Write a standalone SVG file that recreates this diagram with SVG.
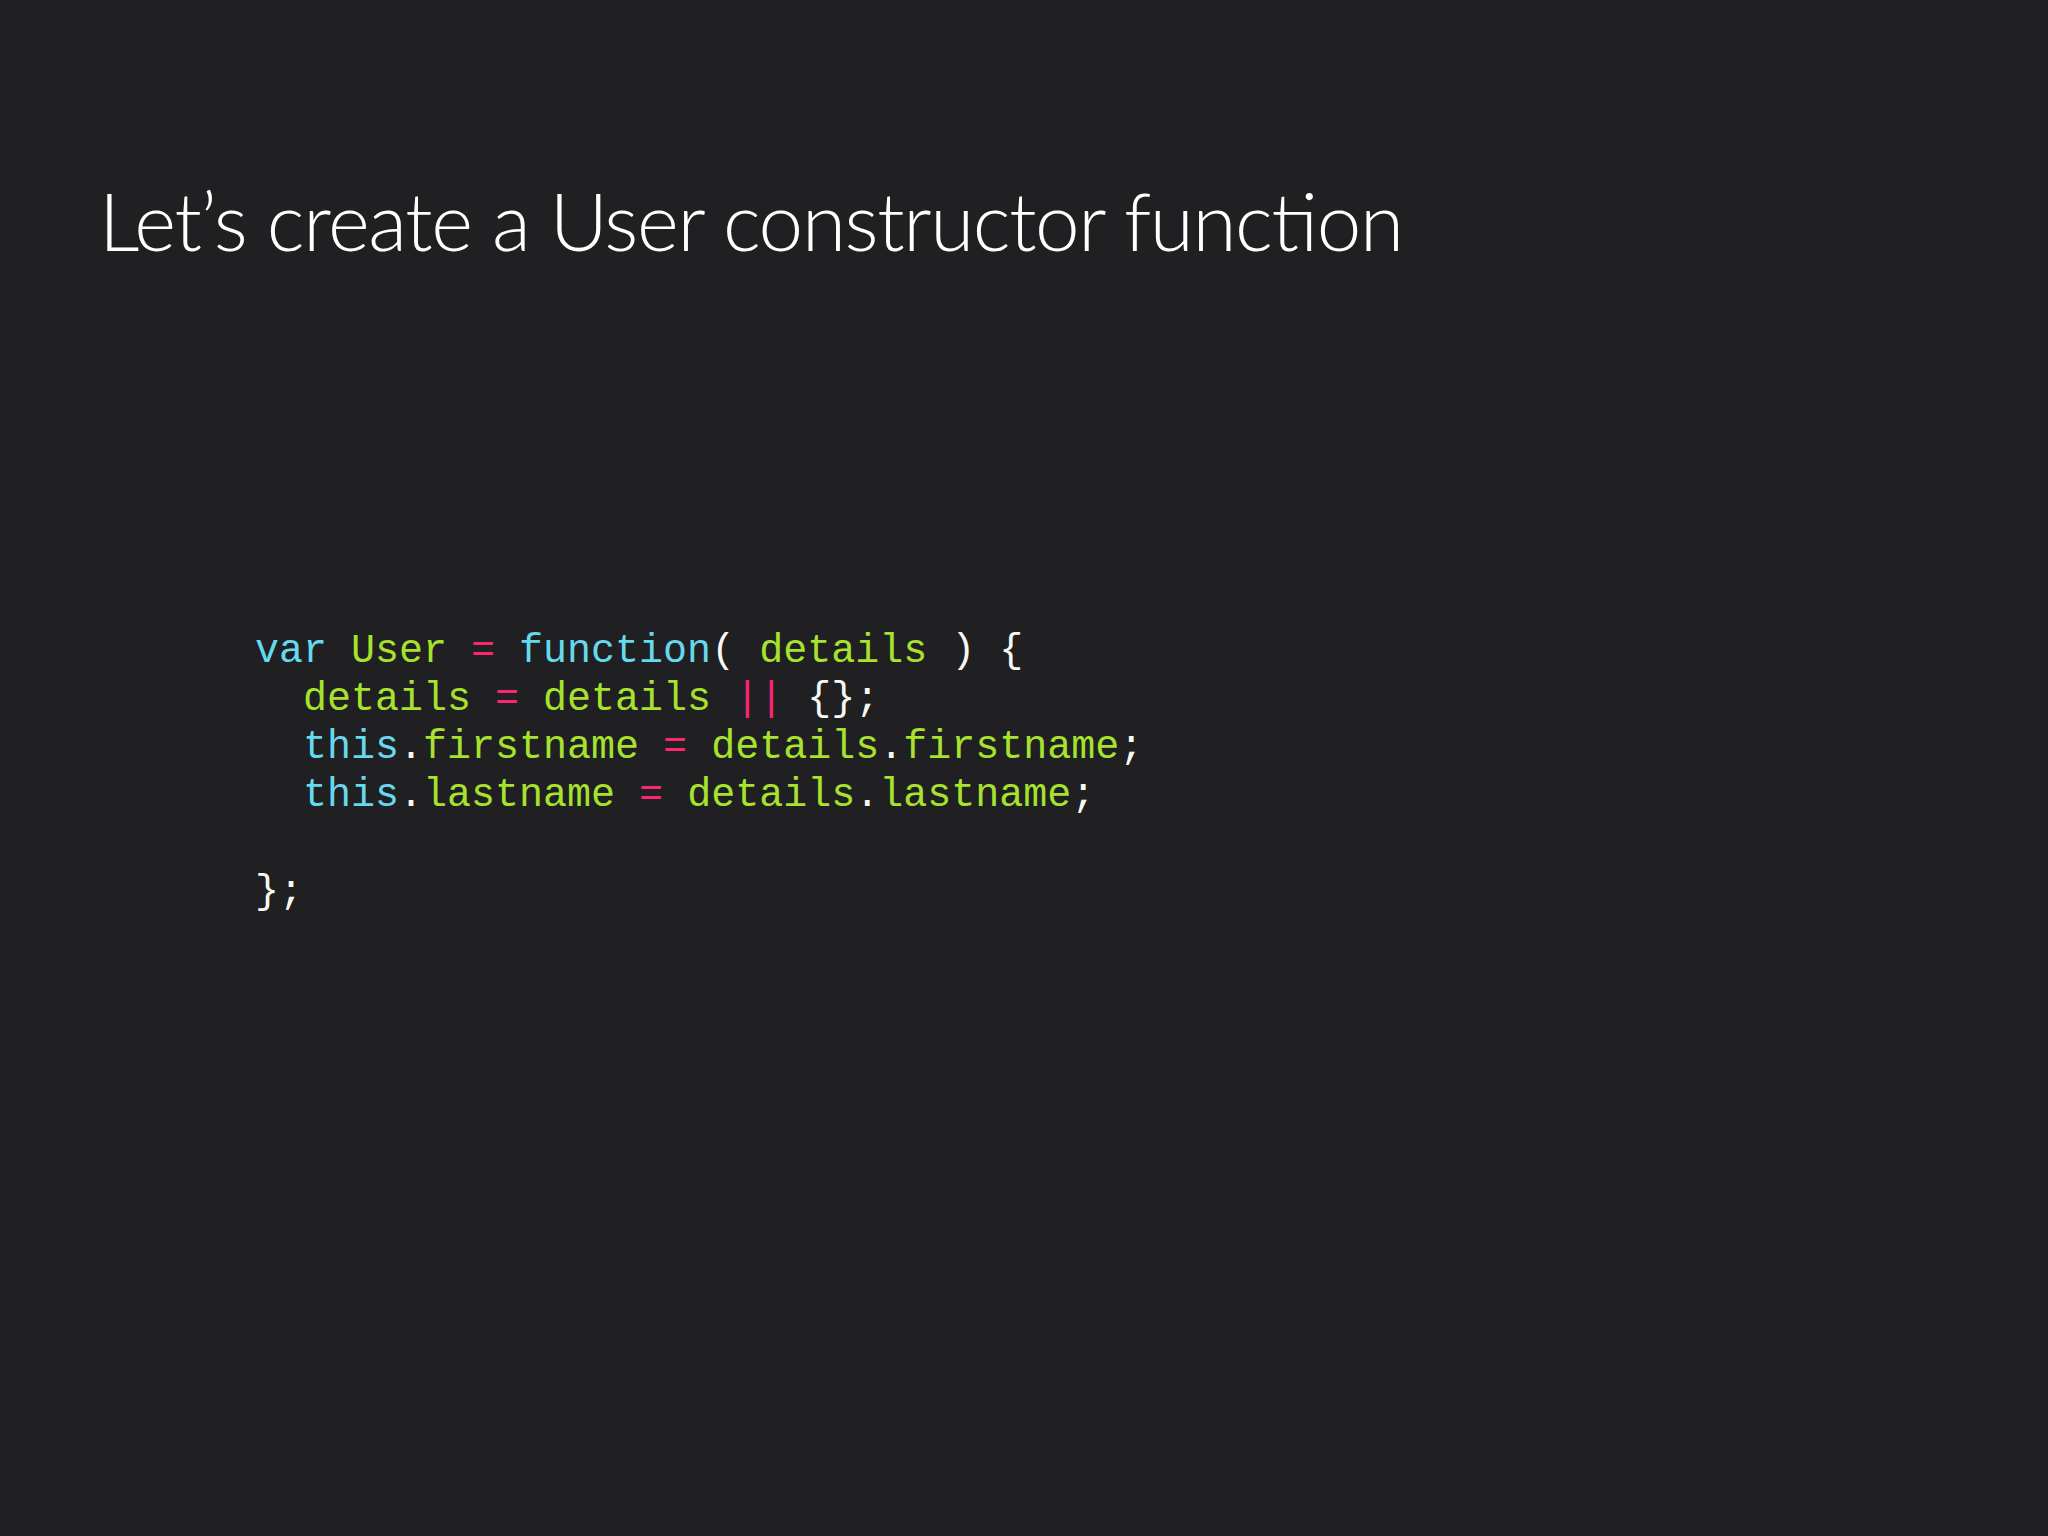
<svg xmlns="http://www.w3.org/2000/svg" width="2048" height="1536" viewBox="0 0 2048 1536">
<style>
.t{font-family:"Lato","Open Sans",sans-serif;font-weight:300;font-size:80px;fill:#ffffff}
.c{font-family:"Liberation Mono","DejaVu Sans Mono",monospace;font-size:40px;fill:#f8f8f2;white-space:pre}
.k{fill:#66d9ef}.g{fill:#a6e22e}.p{fill:#f92672}
</style>
<rect width="2048" height="1536" fill="#202022"/>
<g id="title"><text class="t" x="99" y="251" textLength="1305">Let’s create a User constructor function</text></g>
<g id="code">
<text class="c" x="255" y="662" xml:space="preserve"><tspan class="k">var</tspan> <tspan class="g">User</tspan> <tspan class="p">=</tspan> <tspan class="k">function</tspan>( <tspan class="g">details</tspan> ) {</text>
<text class="c" x="255" y="710" xml:space="preserve">  <tspan class="g">details</tspan> <tspan class="p">=</tspan> <tspan class="g">details</tspan> <tspan class="p">||</tspan> {};</text>
<text class="c" x="255" y="758" xml:space="preserve">  <tspan class="k">this</tspan>.<tspan class="g">firstname</tspan> <tspan class="p">=</tspan> <tspan class="g">details</tspan>.<tspan class="g">firstname</tspan>;</text>
<text class="c" x="255" y="806" xml:space="preserve">  <tspan class="k">this</tspan>.<tspan class="g">lastname</tspan> <tspan class="p">=</tspan> <tspan class="g">details</tspan>.<tspan class="g">lastname</tspan>;</text>
<text class="c" x="255" y="903" xml:space="preserve">};</text>
</g>
</svg>
